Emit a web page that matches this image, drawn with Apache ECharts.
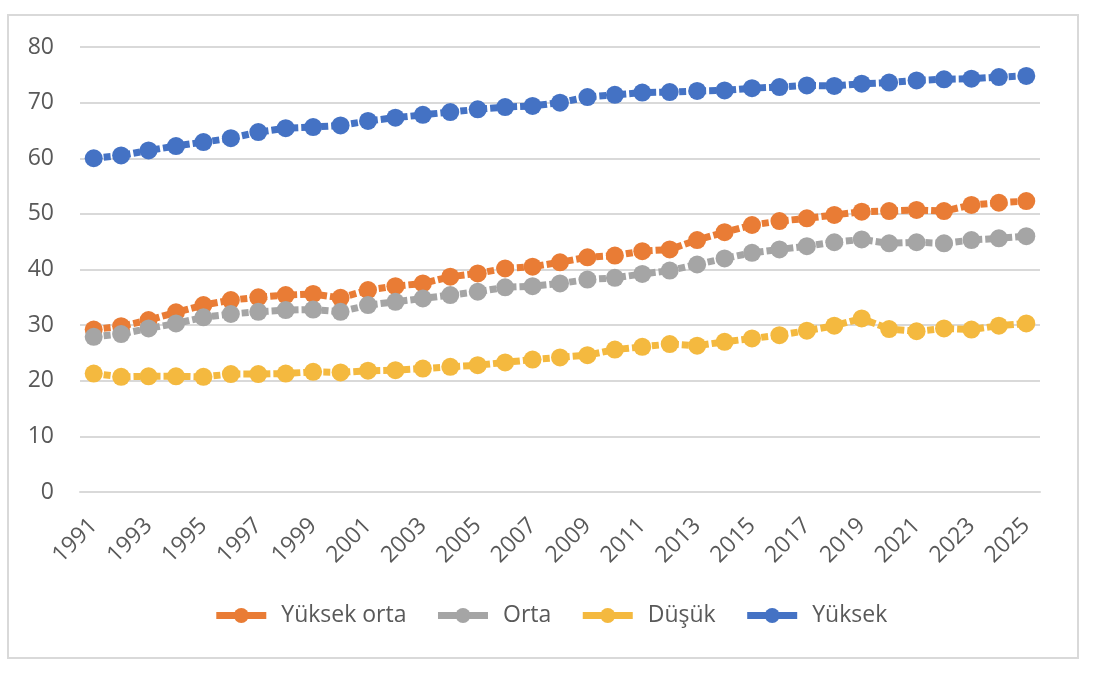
<!DOCTYPE html>
<html>
<head>
<meta charset="utf-8">
<script src="https://cdn.jsdelivr.net/npm/echarts@6/dist/echarts.min.js"></script>
<style>
  html, body { margin: 0; padding: 0; background: #fff; }
  #chart { width: 1100px; height: 676px; }
</style>
</head>
<body>
<div id="chart"></div>
<script>
// years on the x axis
var years = [];
for (var y = 1991; y <= 2025; y++) years.push(String(y));

// values
var yuksekOrta = [29.2, 29.8, 30.9, 32.3, 33.6, 34.5, 35.0, 35.4, 35.6, 34.9,
  36.3, 37.0, 37.5, 38.7, 39.3, 40.2, 40.5, 41.3, 42.2, 42.5,
  43.3, 43.6, 45.3, 46.7, 48.0, 48.7, 49.2, 49.8, 50.4, 50.5,
  50.7, 50.5, 51.6, 52.0, 52.3];
var orta = [27.9, 28.4, 29.4, 30.3, 31.4, 32.0, 32.4, 32.7, 32.8, 32.4,
  33.6, 34.2, 34.8, 35.4, 36.0, 36.8, 37.0, 37.5, 38.2, 38.5,
  39.2, 39.8, 40.9, 42.0, 43.0, 43.6, 44.2, 44.9, 45.4, 44.7,
  44.9, 44.7, 45.3, 45.6, 46.0];
var dusuk = [21.3, 20.7, 20.8, 20.8, 20.7, 21.2, 21.2, 21.3, 21.6, 21.5,
  21.8, 21.9, 22.2, 22.5, 22.8, 23.3, 23.8, 24.2, 24.6, 25.6,
  26.1, 26.6, 26.3, 27.0, 27.6, 28.2, 29.0, 29.9, 31.2, 29.3,
  28.9, 29.4, 29.2, 29.9, 30.3];
var yuksek = [60.0, 60.5, 61.4, 62.2, 62.9, 63.6, 64.7, 65.4, 65.6, 65.9,
  66.7, 67.3, 67.8, 68.3, 68.8, 69.2, 69.4, 70.0, 71.0, 71.4,
  71.8, 71.9, 72.1, 72.2, 72.6, 72.8, 73.1, 73.0, 73.4, 73.6,
  74.0, 74.2, 74.3, 74.6, 74.8];

var seriesNames = ['Yüksek orta', 'Orta', 'Düşük', 'Yüksek'];
var seriesData = [yuksekOrta, orta, dusuk, yuksek];
var colors = ['#E97C35', '#A5A5A5', '#F4B93F', '#4472C4'];

var textColor = '#595959';
var gridColor = '#D9D9D9';
var font = "'Open Sans', sans-serif";

var chart = echarts.init(document.getElementById('chart'));

chart.setOption({
  backgroundColor: '#fff',
  color: colors,
  animation: false,
  textStyle: { fontFamily: font },
  graphic: [{
    type: 'rect',
    shape: { x: 8, y: 15, width: 1070, height: 643 },
    style: { fill: 'none', stroke: gridColor, lineWidth: 2 },
    silent: true
  }],
  grid: { left: 80, right: 60, top: 47, bottom: 184 },
  legend: {
    top: 599,
    left: 'center',
    itemWidth: 50,
    itemHeight: 19,
    itemGap: 28,
    lineStyle: { type: 'solid', width: 7 },
    textStyle: {
      color: textColor, fontSize: 23, fontFamily: font,
      padding: [0, 0, 0, 10]
    },
    data: seriesNames
  },
  xAxis: {
    type: 'category',
    data: years,
    boundaryGap: true,
    axisLine: { lineStyle: { color: gridColor, width: 2 } },
    axisTick: { show: false },
    axisLabel: {
      interval: 1,
      rotate: 45,
      margin: 30,
      color: textColor,
      fontSize: 23,
      fontFamily: font
    }
  },
  yAxis: {
    type: 'value',
    min: 0,
    max: 80,
    interval: 10,
    axisLine: { show: false },
    axisTick: { show: false },
    axisLabel: { color: textColor, fontSize: 23, fontFamily: font, margin: 26 },
    splitLine: { lineStyle: { color: gridColor, width: 2 } }
  },
  series: seriesData.map(function (d, i) {
    return {
      name: seriesNames[i],
      type: 'line',
      data: d,
      symbol: 'circle',
      symbolSize: 18,
      lineStyle: { width: 7, type: [7, 3], color: colors[i] },
      itemStyle: { color: colors[i] }
    };
  })
});
</script>
</body>
</html>
